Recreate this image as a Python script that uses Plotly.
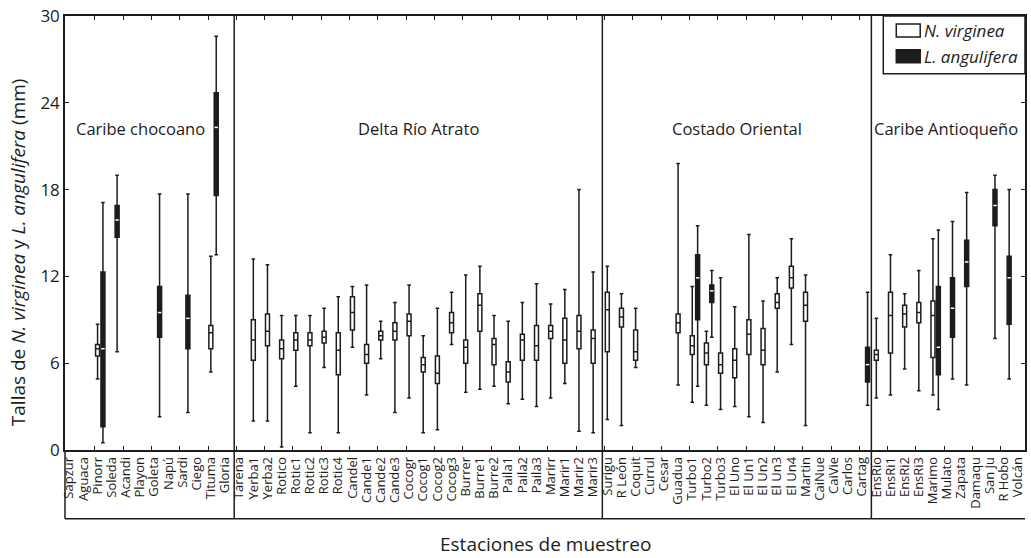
import plotly.graph_objects as go

stations = ["Sapzur", "Aguaca", "Pinorr", "Soleda", "Acandi", "Playon", "Goleta", "Napú",
            "Sardi", "Ciego", "Tituma", "Gloria",
            "Tarena", "Yerba1", "Yerba2", "Rotico", "Rotic1", "Rotic2", "Rotic3", "Rotic4",
            "Candel", "Cande1", "Cande2", "Cande3", "Cocogr", "Cocog1", "Cocog2", "Cocog3",
            "Burrer", "Burre1", "Burre2", "Paila1", "Paila2", "Paila3", "Marirr", "Marir1",
            "Marir2", "Marir3",
            "Surigu", "R León", "Coquit", "Currul", "Cesar", "Guadua", "Turbo1", "Turbo2",
            "Turbo3", "El Uno", "El Un1", "El Un2", "El Un3", "El Un4", "Martin", "CaiNue",
            "CaiVie", "Carlos", "Cartag",
            "EnsRio", "EnsRi1", "EnsRi2", "EnsRi3", "Marimo", "Mulato", "Zapata", "Damaqu",
            "San Ju", "R Hobo", "Volcán"]

groups = ["Caribe chocoano", "Delta Río Atrato", "Costado Oriental", "Caribe Antioqueño"]
group_sizes = [12, 26, 19, 11]

species = ["N. virginea", "L. angulifera"]

# N. virginea (white boxes)
nv_stations = ["Pinorr", "Tituma", "Yerba1", "Yerba2", "Rotico", "Rotic1", "Rotic2", "Rotic3",
               "Rotic4", "Candel", "Cande1", "Cande2", "Cande3", "Cocogr", "Cocog1", "Cocog2",
               "Cocog3", "Burrer", "Burre1", "Burre2", "Paila1", "Paila2", "Paila3", "Marirr",
               "Marir1", "Marir2", "Marir3", "Surigu", "R León", "Coquit", "Guadua", "Turbo1",
               "Turbo2", "Turbo3", "El Uno", "El Un1", "El Un2", "El Un3", "El Un4", "Martin",
               "EnsRio", "EnsRi1", "EnsRi2", "EnsRi3", "Marimo"]
nv_low = [4.9, 5.4, 2.0, 2.0, 0.2, 4.4, 1.2, 5.7, 1.2, 7.1, 3.8, 6.3, 2.6, 3.6, 1.2, 1.4,
          7.3, 4.0, 4.2, 4.4, 3.2, 3.5, 3.0, 3.6, 4.6, 1.3, 1.2, 2.1, 1.7, 5.7, 4.5, 3.3,
          3.1, 2.8, 3.0, 2.3, 1.9, 5.4, 7.3, 1.7, 3.6, 3.8, 5.6, 4.1, 3.8]
nv_q1 = [6.5, 7.0, 6.2, 7.2, 6.3, 6.9, 7.2, 7.4, 5.2, 8.3, 6.0, 7.6, 7.6, 7.9, 5.4, 4.6,
         8.1, 6.0, 8.2, 5.9, 4.7, 6.2, 6.2, 7.7, 6.0, 7.0, 6.0, 6.8, 8.5, 6.2, 8.1, 6.6,
         5.9, 5.3, 5.0, 6.6, 5.9, 9.8, 11.2, 8.9, 6.2, 6.7, 8.5, 8.8, 6.4]
nv_med = [7.0, 8.1, 7.6, 8.2, 7.0, 7.6, 7.6, 7.8, 6.9, 9.5, 6.6, 7.9, 8.2, 8.9, 5.9, 5.3,
          8.8, 7.1, 10.0, 7.3, 5.4, 7.6, 7.2, 8.2, 7.6, 8.2, 7.7, 9.7, 9.2, 6.8, 8.8, 7.2,
          6.7, 5.9, 6.2, 8.0, 6.9, 10.2, 11.9, 10.0, 6.6, 9.3, 9.4, 9.5, 9.3]
nv_q3 = [7.3, 8.6, 9.0, 9.4, 7.6, 8.1, 8.1, 8.2, 8.1, 10.6, 7.3, 8.2, 8.8, 9.4, 6.4, 6.5,
         9.5, 7.6, 10.8, 7.7, 6.1, 8.0, 8.6, 8.6, 9.1, 9.3, 8.3, 10.9, 9.8, 8.3, 9.4, 7.9,
         7.4, 6.7, 7.0, 9.0, 8.4, 10.8, 12.7, 10.9, 6.9, 10.9, 10.0, 10.2, 10.3]
nv_high = [8.7, 13.4, 13.2, 12.8, 9.3, 9.3, 9.3, 9.8, 10.6, 11.3, 11.4, 8.9, 10.2, 11.4, 7.9, 9.8,
           10.9, 12.1, 12.7, 9.3, 8.9, 10.2, 11.5, 10.1, 11.1, 18.0, 12.3, 12.7, 10.8, 9.8, 19.8, 11.3,
           8.2, 11.9, 9.9, 14.9, 10.3, 11.9, 14.6, 12.1, 9.1, 13.5, 10.8, 12.4, 14.6]

# L. angulifera (black boxes)
la_stations = ["Pinorr", "Soleda", "Goleta", "Sardi", "Tituma", "Turbo1", "Turbo2", "Cartag",
               "Marimo", "Mulato", "Zapata", "San Ju", "R Hobo"]
la_low = [0.5, 6.8, 2.3, 2.6, 13.5, 4.4, 7.8, 3.1, 2.8, 4.9, 4.5, 7.7, 4.9]
la_q1 = [1.6, 14.7, 7.8, 7.0, 17.6, 9.0, 10.2, 4.7, 5.2, 7.8, 11.3, 15.5, 8.7]
la_med = [7.0, 15.9, 9.5, 9.1, 22.3, 11.9, 11.0, 5.9, 7.1, 9.8, 13.0, 16.9, 11.9]
la_q3 = [12.3, 16.9, 11.3, 10.7, 24.7, 13.5, 11.4, 7.1, 11.3, 11.9, 14.5, 18.0, 13.4]
la_high = [17.1, 19.0, 17.7, 17.7, 28.6, 15.5, 12.4, 10.9, 15.2, 15.8, 17.8, 19.0, 18.0]

y_ticks = [0, 6, 12, 18, 24, 30]

# ---------------------------------------------------------------------------
W, H = 1031, 558
ML, MR, MT, MB = 65, 4, 14, 108
PW, PH = W - ML - MR, H - MT - MB
INK = "#1c1c1c"
FONT = "Open Sans"
X_RANGE = [-0.3, 67.5]
BOX_W = 0.28
LA_SHIFT = 0.38
LABEL_BAND = (450 - 519) / PH  # bottom of the tick-label band, paper units


def px(xp):
    return (xp - ML) / PW


def py(yp):
    return (MT + PH - yp) / PH


pos = {s: i for i, s in enumerate(stations)}
nv_x = [pos[s] for s in nv_stations]
la_x = [pos[s] + LA_SHIFT for s in la_stations]

fig = go.Figure()
fig.add_trace(go.Box(
    name=species[0], x=nv_x, q1=nv_q1, median=nv_med, q3=nv_q3,
    lowerfence=nv_low, upperfence=nv_high, orientation="v",
    fillcolor="white", line=dict(color=INK, width=1.5), width=BOX_W,
    whiskerwidth=0.9, boxpoints=False, hoverinfo="skip", showlegend=False))
fig.add_trace(go.Box(
    name=species[1], x=la_x, q1=la_q1, median=la_med, q3=la_q3,
    lowerfence=la_low, upperfence=la_high, orientation="v",
    fillcolor=INK, line=dict(color=INK, width=1.5), width=BOX_W,
    whiskerwidth=0.9, boxpoints=False, hoverinfo="skip", showlegend=False))

# white median lines inside the black boxes
mx, my = [], []
half = BOX_W / 2 - 0.02
for xv, m in zip(la_x, la_med):
    mx += [xv - half, xv + half, None]
    my += [m, m, None]
fig.add_trace(go.Scatter(x=mx, y=my, mode="lines", line=dict(color="white", width=1.5),
                         showlegend=False, hoverinfo="skip"))

# group dividers and label-band frame
span = X_RANGE[1] - X_RANGE[0]
shapes = [
    dict(type="line", xref="paper", yref="paper", x0=0, x1=0, y0=LABEL_BAND, y1=0,
         line=dict(color=INK, width=1.5)),
    dict(type="line", xref="paper", yref="paper", x0=0, x1=1, y0=LABEL_BAND, y1=LABEL_BAND,
         line=dict(color=INK, width=1.5)),
]
annotations = []
start = 0
centers = [5.05, 24.65, 47.15, 61.9]
for gi, (g, n) in enumerate(zip(groups, group_sizes)):
    end = start + n
    if gi < len(groups) - 1:
        d = end - 1 + 0.65
        pxd = (d - X_RANGE[0]) / span
        shapes.append(dict(type="line", xref="paper", yref="paper", x0=pxd, x1=pxd,
                           y0=LABEL_BAND, y1=1, line=dict(color=INK, width=1.5)))
    annotations.append(dict(text=g, x=centers[gi], y=22.2, xref="x", yref="y",
                            showarrow=False, font=dict(family=FONT, size=16.5, color=INK)))
    start = end

# hand-drawn legend (wide rectangular swatches as in the reference)
shapes.append(dict(type="rect", xref="paper", yref="paper", x0=px(885), x1=1,
                   y0=py(72), y1=1, fillcolor="white", line=dict(color=INK, width=1.5)))
shapes.append(dict(type="rect", xref="paper", yref="paper", x0=px(898), x1=px(922),
                   y0=py(35), y1=py(22), fillcolor="white", line=dict(color=INK, width=1.5)))
shapes.append(dict(type="rect", xref="paper", yref="paper", x0=px(898), x1=px(922),
                   y0=py(61), y1=py(48), fillcolor=INK, line=dict(color=INK, width=1.5)))
for name, yc in zip(species, [28.5, 54.5]):
    annotations.append(dict(text="<i>" + name + "</i>", x=px(924), y=py(yc), xref="paper",
                            yref="paper", xanchor="left", yanchor="middle", showarrow=False,
                            font=dict(family=FONT, size=17, color=INK)))

annotations.append(dict(text="Estaciones de muestreo", x=0.5, y=py(544), xref="paper",
                        yref="paper", showarrow=False, yanchor="middle",
                        font=dict(family=FONT, size=19, color=INK)))
annotations.append(dict(text="Tallas de <i>N. virginea</i> y <i>L. angulifera</i> (mm)",
                        x=px(18), y=0.456, xref="paper", yref="paper", textangle=-90,
                        showarrow=False, xanchor="center", yanchor="middle",
                        font=dict(family=FONT, size=19, color=INK)))

minor_ticks = [1.8 + 2 * k for k in range(33)]

fig.update_layout(
    width=W, height=H,
    margin=dict(l=ML, r=MR, t=MT, b=MB),
    paper_bgcolor="white", plot_bgcolor="white",
    font=dict(family=FONT, color=INK),
    showlegend=False,
    shapes=shapes, annotations=annotations,
    xaxis=dict(range=X_RANGE, tickmode="array", tickvals=list(range(len(stations))),
               ticktext=stations, tickangle=-90, ticks="", showline=True, linecolor=INK,
               linewidth=1.5, mirror="ticks", showgrid=False, zeroline=False,
               tickfont=dict(family=FONT, size=13, color=INK),
               minor=dict(tickmode="array", tickvals=minor_ticks, ticks="inside",
                          ticklen=4, tickcolor=INK, tickwidth=1.2, showgrid=False)),
    yaxis=dict(range=[0, 30], tickmode="array", tickvals=y_ticks, ticks="inside",
               ticklen=4, tickcolor=INK, showline=True, linecolor=INK, linewidth=1.5,
               mirror="ticks", showgrid=False, zeroline=False,
               tickfont=dict(family=FONT, size=17, color=INK)),
)

fig.write_html("out.html", config={"displayModeBar": False},
               post_script="document.body.style.margin='0';document.body.style.overflow='hidden';")
